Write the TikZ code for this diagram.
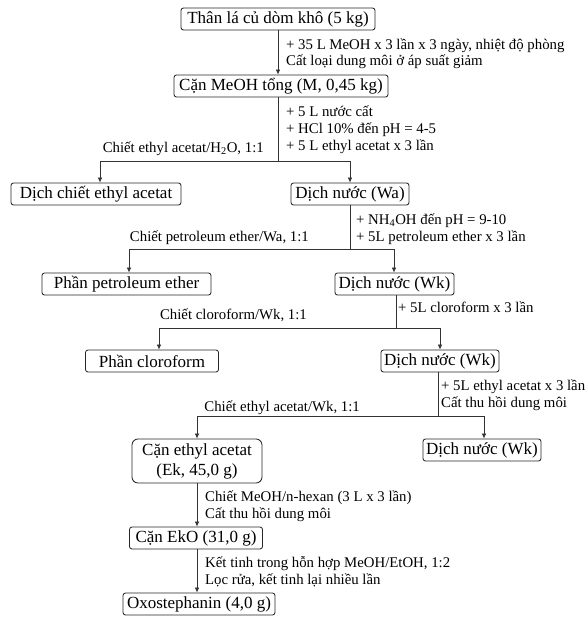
\documentclass[tikz,border=0pt]{standalone}
\usepackage{fontspec}
\setmainfont{Liberation Serif}
\usetikzlibrary{arrows.meta}
\begin{document}
\begin{tikzpicture}[x=1pt,y=-1pt,
 box/.style={draw=black!85,line width=0.85pt,rounded corners=2.5pt,inner sep=0pt,minimum height=22pt,font=\fontsize{17}{20}\selectfont,text=black},
 note/.style={inner sep=0pt,align=left,anchor=west,font=\fontsize{14.8}{17}\selectfont},
 lnote/.style={inner sep=0pt,anchor=east,font=\fontsize{14.8}{17}\selectfont},
 conn/.style={draw=black!80,line width=0.7pt},
 arr/.style={conn,-{Latex[length=5pt,width=4.5pt]}}]
\useasboundingbox (0,0) rectangle (588,621);
% boxes
\node[box,minimum width=194pt] (b1) at (278,19) {Thân lá củ dòm khô (5 kg)};
\node[box,minimum width=214pt] (b2) at (281,86) {Cặn MeOH tổng (M, 0,45 kg)};
\node[box,minimum width=170pt] (b3) at (96,194) {Dịch chiết ethyl acetat};
\node[box,minimum width=118pt] (b4) at (350,194) {Dịch nước (Wa)};
\node[box,minimum width=169pt] (b5) at (126.5,284) {Phần petroleum ether};
\node[box,minimum width=119pt] (b6) at (394.5,284) {Dịch nước (Wk)};
\node[box,minimum width=133pt] (b7) at (152,361) {Phần cloroform};
\node[box,minimum width=118pt] (b8) at (440,361) {Dịch nước (Wk)};
\node[box,minimum width=130pt,minimum height=44pt,align=center,rounded corners=6pt] (b9) at (197,461) {Cặn ethyl acetat\\(Ek, 45,0 g)};
\node[box,minimum width=118pt] (b10) at (482,450) {Dịch nước (Wk)};
\node[box,minimum width=133pt] (b11) at (196,538) {Cặn EkO (31,0 g)};
\node[box,minimum width=152pt] (b12) at (199,604) {Oxostephanin (4,0 g)};
% junction coordinates
\coordinate (j1) at (278,161);
\coordinate (h1l) at (100,161);
\coordinate (h1r) at (350,161);
\coordinate (j2) at (350,249);
\coordinate (h2l) at (129,249);
\coordinate (h2r) at (394,249);
\coordinate (j3) at (396,328);
\coordinate (h3l) at (159,328);
\coordinate (h3r) at (440,328);
\coordinate (j4) at (438,416);
\coordinate (h4l) at (197,416);
\coordinate (h4r) at (484,416);
% connectors
\draw[arr] (b1.south) -- (b1.south |- b2.north);
\draw[conn] (j1 |- b2.south) -- (j1);
\draw[arr] (h1r) -- (h1l) -- (h1l |- b3.north);
\draw[arr] (h1r) -- (h1r |- b4.north);
\draw[conn] (j2 |- b4.south) -- (j2);
\draw[arr] (h2r) -- (h2l) -- (h2l |- b5.north);
\draw[arr] (h2r) -- (h2r |- b6.north);
\draw[conn] (j3 |- b6.south) -- (j3);
\draw[arr] (h3r) -- (h3l) -- (h3l |- b7.north);
\draw[arr] (h3r) -- (h3r |- b8.north);
\draw[conn] (j4 |- b8.south) -- (j4);
\draw[arr] (h4r) -- (h4l) -- (h4l |- b9.north);
\draw[arr] (h4r) -- (h4r |- b10.north);
\draw[arr] (h4l |- b9.south) -- (h4l |- b11.north);
\draw[arr] (h4l |- b11.south) -- (h4l |- b12.north);
% notes
\node[note,font=\fontsize{14.8}{15.5}\selectfont] (n1) at (286,53.5) {+ 35 L MeOH x 3 lần x 3 ngày, nhiệt độ phòng\\Cất loại dung môi ở áp suất giảm};
\node[note] (n2) at (286,130) {+ 5 L nước cất\\+ HCl 10\% đến pH = 4-5\\+ 5 L ethyl acetat x 3 lần};
\node[lnote] (l2) at (264,149) {Chiết ethyl acetat/H\textsubscript{2}O, 1:1};
\node[note] (n3) at (356,229) {+ NH\textsubscript{4}OH đến pH = 9-10\\+ 5L petroleum ether x 3 lần};
\node[lnote] (l3) at (309,238) {Chiết petroleum ether/Wa, 1:1};
\node[note] (n4) at (398,307) {+ 5L cloroform x 3 lần};
\node[lnote] (l4) at (307,315) {Chiết cloroform/Wk, 1:1};
\node[note] (n5) at (441,395) {+ 5L ethyl acetat x 3 lần\\Cất thu hồi dung môi};
\node[lnote] (l5) at (360,408) {Chiết ethyl acetat/Wk, 1:1};
\node[note] (n6) at (205,506.5) {Chiết MeOH/n-hexan (3 L x 3 lần)\\Cất thu hồi dung môi};
\node[note] (n7) at (205,572) {Kết tinh trong hỗn hợp MeOH/EtOH, 1:2\\Lọc rửa, kết tinh lại nhiều lần};
\end{tikzpicture}
\end{document}
